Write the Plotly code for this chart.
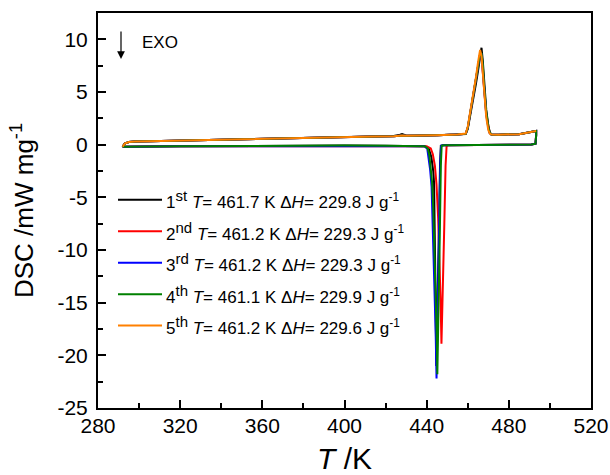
import plotly.graph_objects as go

# ---------------- data ----------------
# heating branch (shared temperature grid, K)
T_heat = [292, 293, 295, 298, 305, 320, 340, 360, 380, 400, 415, 424, 427, 428, 430, 434,
          445, 455, 459, 460, 461, 462, 463, 464, 465, 466, 466.7, 467.3, 468, 469, 470,
          470.7, 471.5, 475, 485, 493.3]
heat_1 = [-0.2, 0.1, 0.25, 0.3, 0.33, 0.4, 0.48, 0.56, 0.64, 0.72, 0.78, 0.82, 0.95, 1.0, 0.88, 0.85,
          0.9, 0.97, 1.02, 1.5, 2.5, 3.6, 4.7, 5.8, 7.0, 8.3, 9.2, 8.0, 5.8, 3.3, 1.8,
          1.2, 0.97, 0.95, 1.0, 1.3]
heat_2 = [-0.2, 0.1, 0.25, 0.3, 0.33, 0.4, 0.48, 0.56, 0.64, 0.72, 0.78, 0.8, 0.86, 0.88, 0.84, 0.84,
          0.9, 0.97, 1.03, 1.6, 2.7, 3.8, 5.0, 6.1, 7.4, 8.6, 8.5, 7.3, 5.2, 2.9, 1.6,
          1.1, 0.97, 0.95, 1.0, 1.3]
heat_3 = [-0.2, 0.1, 0.25, 0.3, 0.33, 0.4, 0.48, 0.56, 0.64, 0.72, 0.78, 0.8, 0.86, 0.88, 0.84, 0.84,
          0.9, 0.97, 1.03, 1.6, 2.7, 3.8, 5.0, 6.1, 7.4, 8.6, 8.6, 7.3, 5.2, 2.9, 1.6,
          1.1, 0.97, 0.95, 1.0, 1.3]
heat_4 = [-0.2, 0.1, 0.25, 0.3, 0.33, 0.4, 0.48, 0.56, 0.64, 0.72, 0.78, 0.8, 0.86, 0.88, 0.84, 0.84,
          0.9, 0.97, 1.03, 1.6, 2.7, 3.8, 5.0, 6.1, 7.4, 8.6, 8.7, 7.6, 5.5, 3.1, 1.7,
          1.15, 0.97, 0.95, 1.0, 1.3]
heat_5 = [-0.2, 0.1, 0.25, 0.3, 0.33, 0.4, 0.48, 0.56, 0.64, 0.72, 0.78, 0.8, 0.86, 0.88, 0.84, 0.84,
          0.9, 0.97, 1.05, 1.7, 2.8, 4.0, 5.2, 6.4, 7.8, 9.0, 8.4, 7.0, 4.8, 2.6, 1.4,
          1.05, 0.97, 0.95, 1.0, 1.3]

# cooling branch: common baseline before / after the crystallisation peak
T_cool_hi = [493.3, 493, 491, 480, 465, 452]
cool_hi = [0.9, 0.1, 0.02, 0.02, 0.0, -0.03]
T_cool_lo = [438, 430, 420, 400, 380, 360, 340, 320, 305, 295, 292]
cool_lo = [-0.15, -0.12, -0.1, -0.08, -0.08, -0.1, -0.12, -0.15, -0.18, -0.2, -0.2]

# crystallisation peaks (T descending)
T_peak_1 = [447.8, 446.9, 446.5, 445.9, 445.3, 444.7, 444.3, 443.9, 443.6, 443.2, 442.3, 441.0, 439.0]
peak_1 = [-0.05, -0.1, -2.0, -9.0, -16.0, -21.0, -14.0, -6.0, -3.6, -2.5, -1.2, -0.35, -0.15]
T_peak_2 = [450.5, 449.7, 449.2, 448.6, 447.9, 447.2, 446.8, 446.3, 445.6, 444.8, 444.0, 443.0, 442.0, 440.0]
peak_2 = [-0.05, -0.15, -2.0, -7.5, -13.0, -18.9, -15.0, -11.0, -7.0, -3.8, -2.0, -0.9, -0.35, -0.15]
T_peak_3 = [448.0, 447.0, 446.6, 446.0, 445.4, 444.8, 444.4, 444.1, 443.5, 442.9, 442.4, 441.7, 441.2, 440.3, 439.0]
peak_3 = [-0.05, -0.1, -2.0, -8.5, -15.0, -22.2, -18.0, -15.5, -10.3, -6.5, -4.0, -2.4, -1.5, -0.4, -0.15]
T_peak_4 = [448.4, 447.3, 446.9, 446.4, 445.8, 445.2, 444.8, 444.4, 443.8, 443.2, 442.6, 442.0, 441.3, 440.5, 439.0]
peak_4 = [-0.05, -0.1, -2.0, -8.5, -15.0, -21.8, -17.5, -14.0, -9.5, -6.0, -3.5, -2.0, -1.0, -0.35, -0.15]

# legend content
ordinals = ["st", "nd", "rd", "th", "th"]
T_melt = [461.7, 461.2, 461.2, 461.1, 461.2]
dH = [229.8, 229.3, 229.3, 229.9, 229.6]
colors = ["#000000", "#ff0000", "#0000ff", "#008000", "#ff8000"]

# ---------------- figure ----------------
heats = [heat_1, heat_2, heat_3, heat_4, heat_5]
peaksT = [T_peak_1, T_peak_2, T_peak_3, T_peak_4, None]
peaksV = [peak_1, peak_2, peak_3, peak_4, None]

fig = go.Figure()
for i in range(5):
    x = list(T_heat)
    y = list(heats[i])
    if peaksT[i] is not None:
        x += T_cool_hi + peaksT[i] + T_cool_lo
        y += cool_hi + peaksV[i] + cool_lo
    fig.add_trace(go.Scatter(x=x, y=y, mode="lines",
                             line=dict(color=colors[i], width=2),
                             showlegend=False, hoverinfo="skip"))

W, H = 610, 475
ml, mr, mt, mb = 98, 19, 13, 66.5
pw, ph = W - ml - mr, H - mt - mb

def px(xp):
    return (xp - ml) / pw

def py(yp):
    return (H - mb - yp) / ph

row_y = [200, 231.5, 263, 294.5, 326]
font_family = "Liberation Sans, Arial, sans-serif"
annotations = []
shapes = []
for i in range(5):
    txt = (f"{i+1}<sup><span style='font-size:15px'>{ordinals[i]}</span></sup> <i>T</i>= {T_melt[i]:.1f} K "
           f"Δ<i>H</i>= {dH[i]:.1f} J g<sup>-1</sup>")
    annotations.append(dict(xref="paper", yref="paper", x=px(164), y=py(row_y[i]),
                            xanchor="left", yanchor="middle", text=txt, showarrow=False,
                            font=dict(size=17, color="black", family=font_family)))
    shapes.append(dict(type="line", xref="paper", yref="paper",
                       x0=px(118), x1=px(162), y0=py(row_y[i]), y1=py(row_y[i]),
                       line=dict(color=colors[i], width=2)))

# EXO arrow
annotations.append(dict(xref="paper", yref="paper", x=px(121), y=py(59),
                        ax=0, ay=-29, axref="pixel", ayref="pixel",
                        text="", showarrow=True, arrowhead=2, arrowsize=1.3,
                        arrowwidth=1.2, arrowcolor="black"))
annotations.append(dict(xref="paper", yref="paper", x=px(140), y=py(43),
                        xanchor="left", yanchor="middle", text="EXO", showarrow=False,
                        font=dict(size=17, color="black", family=font_family)))

yt = [-25, -20, -15, -10, -5, 0, 5, 10]
xt = [280, 320, 360, 400, 440, 480, 520]

fig.update_layout(
    width=W, height=H,
    margin=dict(l=ml, r=mr, t=mt, b=mb, pad=0, autoexpand=False),
    paper_bgcolor="white", plot_bgcolor="white",
    font=dict(family=font_family, color="black", size=20),
    annotations=annotations, shapes=shapes,
    xaxis=dict(range=[280, 520], tickmode="array", tickvals=xt, ticktext=[str(v) for v in xt],
               ticks="inside", ticklen=8, tickwidth=1.5, tickcolor="black",
               minor=dict(tickmode="linear", tick0=280, dtick=20, ticks="inside",
                          ticklen=5, tickwidth=1.5, tickcolor="black", showgrid=False),
               showline=True, linewidth=2, linecolor="black", mirror=True,
               showgrid=False, zeroline=False, ticklabelstandoff=-2, automargin=False,
               tickfont=dict(size=21),
               title=dict(text="<i>T</i> /K", font=dict(size=30), standoff=26)),
    yaxis=dict(range=[-25, 12.5], tickmode="array", tickvals=yt, ticktext=[str(v) for v in yt],
               ticks="inside", ticklen=8, tickwidth=1.5, tickcolor="black",
               minor=dict(tickmode="linear", tick0=-25, dtick=2.5, ticks="inside",
                          ticklen=5, tickwidth=1.5, tickcolor="black", showgrid=False),
               showline=True, linewidth=2, linecolor="black", mirror=True,
               showgrid=False, zeroline=False, ticklabelstandoff=4, automargin=False,
               tickfont=dict(size=21),
               title=dict(text="DSC /mW mg<sup>-1</sup>", font=dict(size=26), standoff=16)),
)

fig.write_html("out.html")
